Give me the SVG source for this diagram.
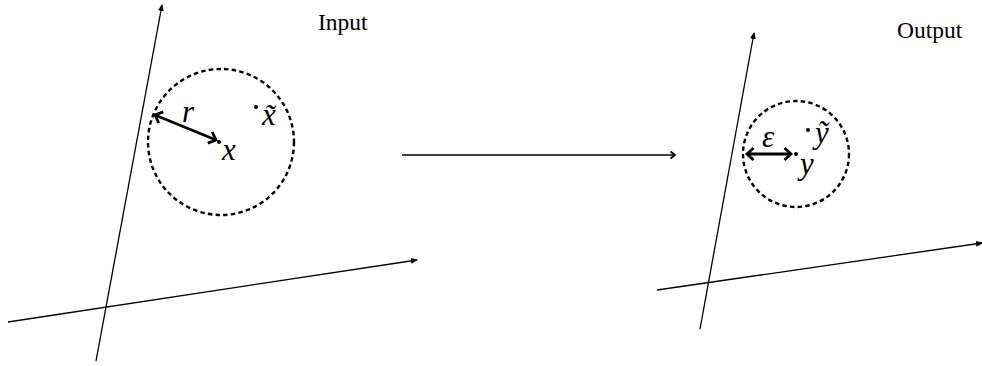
<svg xmlns="http://www.w3.org/2000/svg" width="982" height="366" viewBox="0 0 982 366">
<style>
.axis{stroke:#000;stroke-width:1.3;fill:none}
.thick{stroke:#000;stroke-width:2.8;fill:none}
.dash{stroke:#000;stroke-width:2.4;fill:none;stroke-dasharray:4.5 3.2}
.lbl{font-family:"Liberation Serif",serif;font-size:23.5px;fill:#000}
.math{font-family:"Liberation Serif",serif;font-style:italic;font-size:31px;fill:#000}
</style>
<defs>
<marker id="ah" markerWidth="8" markerHeight="8" refX="6" refY="4" orient="auto" markerUnits="userSpaceOnUse">
<path d="M0,1 L7,4 L0,7 Z" fill="#000"/>
</marker>
<marker id="ahs" markerWidth="16" markerHeight="16" refX="8" refY="8" orient="auto-start-reverse" markerUnits="userSpaceOnUse">
<path d="M1.5,2 L8,8 L1.5,14" fill="none" stroke="#000" stroke-width="2.8"/>
</marker>
<marker id="ahm" markerWidth="12" markerHeight="12" refX="6" refY="6" orient="auto" markerUnits="userSpaceOnUse">
<path d="M1.5,2.5 L6,6 L1.5,9.5" fill="none" stroke="#000" stroke-width="1.8"/>
</marker>
</defs>
<g id="input-space">
<line class="axis" x1="96" y1="361" x2="162" y2="5" marker-end="url(#ah)"/>
<line class="axis" x1="8" y1="322" x2="417" y2="260" marker-end="url(#ah)"/>
<circle class="dash" cx="221" cy="142" r="73"/>
<line class="thick" x1="155" y1="115" x2="216" y2="140" marker-start="url(#ahs)" marker-end="url(#ahs)"/>
<circle cx="219" cy="142" r="2" fill="#000"/>
<circle cx="256" cy="107" r="2" fill="#000"/>
<text class="math" x="182" y="122">r</text>
<text class="math" x="222" y="160">x</text>
<text class="math" x="262" y="125">x̃</text>
<text class="lbl" x="318" y="30">Input</text>
</g>
<g id="output-space">
<line class="axis" x1="700" y1="329" x2="754" y2="33" marker-end="url(#ah)"/>
<line class="axis" x1="657" y1="290" x2="982" y2="243" marker-end="url(#ah)"/>
<circle class="dash" cx="796" cy="154" r="53"/>
<line class="thick" x1="747" y1="154" x2="791" y2="154" marker-start="url(#ahs)" marker-end="url(#ahs)"/>
<circle cx="796" cy="154" r="2" fill="#000"/>
<circle cx="808" cy="130" r="2" fill="#000"/>
<text class="math" x="762" y="147">ε</text>
<text class="math" x="800" y="174">y</text>
<text class="math" x="815" y="143">ỹ</text>
<text class="lbl" x="897" y="38">Output</text>
</g>
<g id="connectors">
<line x1="402" y1="155" x2="675" y2="155" stroke="#000" stroke-width="1.6" marker-end="url(#ahm)"/>
</g>
</svg>
